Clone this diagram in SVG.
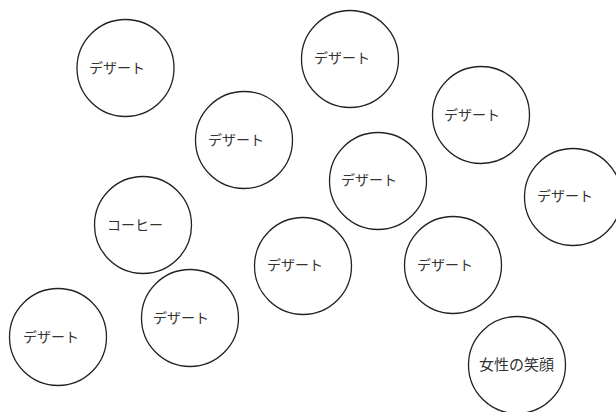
<svg xmlns="http://www.w3.org/2000/svg" width="616" height="412" viewBox="0 0 616 412">
<style>
circle{fill:#fff;stroke:#222;stroke-width:1.3}
text{font-family:"Noto Sans CJK JP","Noto Sans",sans-serif;font-size:14px;fill:#333}
</style>
<rect width="616" height="412" fill="#fff"/>
<g id="connectors"/>
<g id="n1"><circle cx="125.5" cy="68" r="48.5"/><text x="89" y="73">デザート</text></g>
<g id="n2"><circle cx="350" cy="59" r="48.5"/><text x="314" y="63">デザート</text></g>
<g id="n3"><circle cx="244" cy="140" r="48.5"/><text x="208" y="145">デザート</text></g>
<g id="n4"><circle cx="481" cy="115" r="48.5"/><text x="444" y="120">デザート</text></g>
<g id="n5"><circle cx="378" cy="181" r="48.5"/><text x="341" y="185">デザート</text></g>
<g id="n6"><circle cx="573" cy="197" r="48.5"/><text x="537" y="201">デザート</text></g>
<g id="n7"><circle cx="143" cy="225" r="48.5"/><text x="107" y="230">コーヒー</text></g>
<g id="n8"><circle cx="303" cy="266" r="48.5"/><text x="267" y="270">デザート</text></g>
<g id="n9"><circle cx="453" cy="265" r="48.5"/><text x="417" y="270">デザート</text></g>
<g id="n10"><circle cx="190" cy="318" r="48.5"/><text x="153" y="323">デザート</text></g>
<g id="n11"><circle cx="58" cy="337" r="48.5"/><text x="23" y="342">デザート</text></g>
<g id="n12"><circle cx="517" cy="365" r="48.5"/><text x="479" y="370" style="font-size:15px">女性の笑顔</text></g>
</svg>
